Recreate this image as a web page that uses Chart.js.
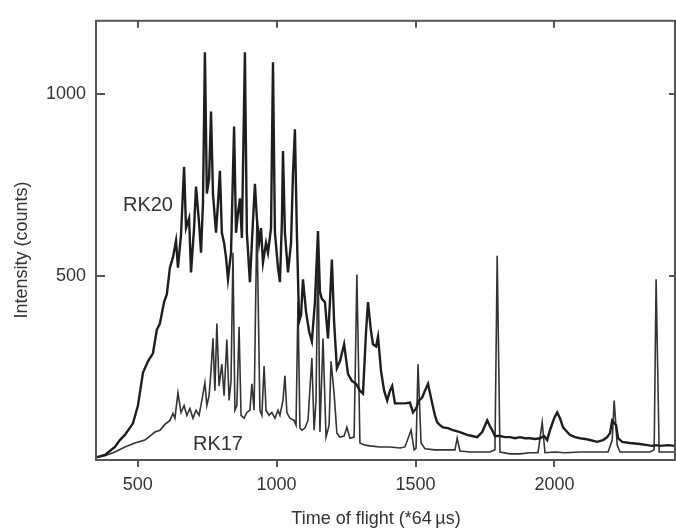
<!DOCTYPE html>
<html>
<head>
<meta charset="utf-8">
<script src="https://cdn.jsdelivr.net/npm/chart.js@4.4.1/dist/chart.umd.min.js"></script>
<style>
html, body { margin: 0; padding: 0; background: #fff; }
canvas { display: block; }
</style>
</head>
<body>
<canvas id="tof" width="676" height="530"></canvas>
<script>
// RK20 spectrum (upper trace), time of flight / counts
var rk20X = [354, 382, 418, 436, 454, 483, 501, 519, 537, 555, 569, 580, 595, 605, 616, 627, 638, 645, 656, 667,
	674, 685, 692, 703, 710, 721, 728, 735, 742, 749, 757, 764, 771, 782, 789, 796, 803, 811, 818, 825,
	836, 847, 854, 861, 868, 875, 886, 893, 904, 911, 922, 929, 937, 944, 951, 962, 969, 980, 987, 994,
	1005, 1012, 1019, 1023, 1030, 1041, 1052, 1059, 1066, 1073, 1081, 1088, 1095, 1106, 1117, 1127, 1138, 1149, 1156, 1163,
	1174, 1185, 1192, 1199, 1207, 1217, 1228, 1243, 1257, 1271, 1286, 1300, 1311, 1322, 1329, 1340, 1347, 1358, 1365, 1376,
	1387, 1398, 1408, 1416, 1426, 1444, 1462, 1480, 1491, 1502, 1513, 1524, 1534, 1545, 1552, 1560, 1570, 1578, 1588, 1599,
	1617, 1635, 1660, 1686, 1704, 1722, 1740, 1758, 1768, 1776, 1786, 1804, 1822, 1840, 1858, 1876, 1894, 1912, 1930, 1948,
	1963, 1974, 1984, 1999, 2010, 2020, 2031, 2046, 2056, 2074, 2092, 2110, 2128, 2154, 2175, 2190, 2200, 2208, 2222, 2229,
	2244, 2272, 2308, 2334, 2352, 2366, 2380, 2409, 2434];
var rk20Y = [0, 6, 28, 47, 61, 93, 142, 232, 264, 286, 351, 368, 427, 449, 522, 550, 596, 522, 612, 800,
	631, 658, 509, 631, 745, 645, 563, 699, 1115, 726, 767, 952, 726, 618, 699, 789, 618, 590, 550, 490,
	563, 911, 618, 672, 713, 604, 1115, 618, 482, 590, 753, 658, 590, 631, 536, 590, 563, 631, 1088, 618,
	522, 482, 645, 843, 618, 509, 590, 781, 903, 618, 373, 392, 490, 400, 346, 319, 427, 623, 455, 436,
	427, 327, 427, 544, 373, 245, 264, 311, 229, 210, 202, 183, 175, 346, 427, 346, 311, 305, 332, 237,
	183, 156, 183, 196, 148, 148, 148, 150, 123, 134, 156, 164, 183, 202, 177, 148, 115, 96, 88, 82,
	80, 74, 69, 61, 58, 55, 69, 101, 85, 74, 58, 58, 55, 55, 52, 55, 52, 52, 50, 52,
	58, 47, 74, 107, 123, 107, 82, 69, 61, 55, 52, 50, 47, 42, 47, 55, 66, 101, 88, 52,
	42, 39, 36, 33, 31, 33, 31, 33, 31];

// RK17 spectrum (lower trace)
var rk17X = [354, 382, 418, 454, 490, 526, 544, 562, 580, 598, 616, 627, 634, 645, 656, 667, 677, 688, 699, 710,
	721, 731, 742, 749, 757, 764, 771, 778, 785, 793, 803, 811, 821, 829, 836, 843, 850, 857, 865, 872,
	883, 893, 904, 911, 919, 929, 940, 947, 955, 962, 973, 983, 994, 1005, 1012, 1023, 1030, 1037, 1048, 1063,
	1070, 1077, 1084, 1091, 1102, 1113, 1127, 1135, 1142, 1149, 1156, 1167, 1178, 1189, 1196, 1207, 1217, 1228, 1243, 1253,
	1264, 1279, 1289, 1300, 1318, 1336, 1372, 1408, 1444, 1462, 1484, 1495, 1502, 1509, 1520, 1534, 1570, 1606, 1642, 1650,
	1660, 1696, 1732, 1768, 1786, 1794, 1804, 1840, 1876, 1912, 1941, 1956, 1966, 2002, 2038, 2092, 2146, 2193, 2208, 2215,
	2226, 2236, 2290, 2344, 2359, 2366, 2377, 2409, 2434];
var rk17Y = [0, 4, 14, 28, 39, 47, 58, 69, 74, 90, 101, 120, 107, 177, 123, 142, 115, 134, 107, 129,
	115, 156, 205, 142, 169, 237, 327, 183, 368, 196, 256, 169, 324, 156, 210, 563, 129, 142, 359, 115,
	107, 123, 129, 202, 129, 658, 129, 115, 251, 129, 115, 123, 107, 129, 115, 156, 224, 123, 107, 101,
	88, 427, 80, 74, 80, 101, 273, 74, 156, 590, 69, 327, 55, 88, 264, 175, 66, 55, 58, 82,
	52, 55, 503, 39, 33, 31, 28, 28, 25, 28, 74, 20, 25, 256, 39, 23, 20, 20, 20, 52,
	17, 14, 14, 14, 20, 555, 14, 9, 9, 12, 12, 96, 12, 14, 12, 14, 14, 14, 47, 156,
	33, 14, 14, 14, 20, 490, 14, 14, 14];

var xTicks = [500, 1000, 1500, 2000];
var yTicks = [500, 1000];
var labelText = ['RK20', 'RK17'];			// curve names written on the plot
var labelX = [447, 699];
var labelY = [694, 36];
var xTitle = 'Time of flight (*64\u2009\u00b5s)';
var yTitle = 'Intensity (counts)';

var fontName = '"Liberation Sans", Arial, Helvetica, sans-serif';

function points(xs, ys) {
	var arr = [];
	for (var j = 0; j < xs.length; j++) arr.push({x: xs[j], y: ys[j]});
	return arr;
}

// box round the plot, tick marks, curve names and axis titles
var framePlugin = {
	id: 'frame',
	afterDraw: function(chart) {
		var ctx = chart.ctx, a = chart.chartArea;
		var sx = chart.scales.x, sy = chart.scales.y;
		ctx.save();
		ctx.strokeStyle = '#555';
		ctx.lineWidth = 2;
		ctx.strokeRect(a.left, a.top, a.right - a.left, a.bottom - a.top);

		ctx.beginPath();
		xTicks.forEach(function(v) {
			var p = Math.round(sx.getPixelForValue(v));
			ctx.moveTo(p, a.top); ctx.lineTo(p, a.top + 7);			// top: inward
			ctx.moveTo(p, a.bottom); ctx.lineTo(p, a.bottom + 7);	// bottom: outward
		});
		yTicks.forEach(function(v) {
			var p = Math.round(sy.getPixelForValue(v));
			ctx.moveTo(a.left, p); ctx.lineTo(a.left + 9, p);
			ctx.moveTo(a.right, p); ctx.lineTo(a.right - 6, p);
		});
		ctx.stroke();

		ctx.fillStyle = '#333';
		ctx.font = '20px ' + fontName;
		ctx.textAlign = 'left';
		ctx.textBaseline = 'middle';
		for (var j = 0; j < labelText.length; j++) {
			ctx.fillText(labelText[j], sx.getPixelForValue(labelX[j]), sy.getPixelForValue(labelY[j]));
		}

		ctx.font = '18px ' + fontName;
		ctx.textAlign = 'center';
		ctx.fillText(xTitle, 376, 519);
		ctx.translate(22, 250);
		ctx.rotate(-Math.PI / 2);
		ctx.fillText(yTitle, 0, 0);
		ctx.restore();
	}
};

var ctx = document.getElementById('tof').getContext('2d');
var myChart = new Chart(ctx, {
	type: 'scatter',
	data: {
		datasets: [{
			label: 'RK20',
			data: points(rk20X, rk20Y),
			borderColor: '#1e1e1e',
			borderWidth: 2.4,
			showLine: true,
			pointRadius: 0,
			tension: 0
		}, {
			label: 'RK17',
			data: points(rk17X, rk17Y),
			borderColor: '#333',
			borderWidth: 1.6,
			showLine: true,
			pointRadius: 0,
			tension: 0
		}]
	},
	options: {
		responsive: false,
		animation: false,
		layout: { padding: { top: 15, right: 1, left: 0, bottom: 0 } },
		plugins: { legend: { display: false }, tooltip: { enabled: false } },
		scales: {
			x: {
				type: 'linear',
				min: 350,
				max: 2434,
				afterFit: function(s) { s.height = 70; },
				afterBuildTicks: function(s) { s.ticks = xTicks.map(function(v) { return {value: v}; }); },
				grid: { display: false, drawTicks: false },
				border: { display: false },
				ticks: { padding: 14, color: '#333', font: { family: fontName, size: 18 }, maxRotation: 0, autoSkip: false,
					callback: function(v) { return String(v); } }
			},
			y: {
				min: -8,
				max: 1202,
				afterFit: function(s) { s.width = 96; },
				afterBuildTicks: function(s) { s.ticks = yTicks.map(function(v) { return {value: v}; }); },
				grid: { display: false, drawTicks: false },
				border: { display: false },
				ticks: { padding: 10, color: '#333', font: { family: fontName, size: 18 },
					callback: function(v) { return String(v); } }
			}
		}
	},
	plugins: [framePlugin]
});
</script>
</body>
</html>
